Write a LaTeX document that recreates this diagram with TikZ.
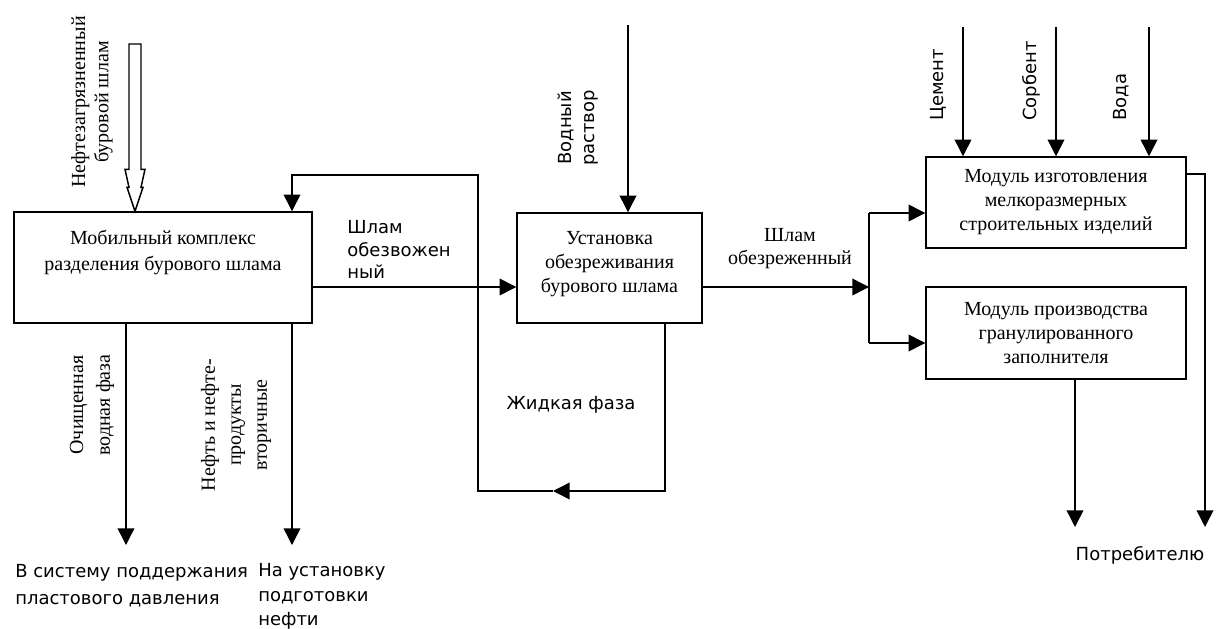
\documentclass[tikz,border=0pt]{standalone}
\usepackage{fontspec}
\setmainfont{Liberation Serif}
\newfontfamily\labfont{DejaVu Sans}
\usetikzlibrary{arrows.meta,calc}

\begin{document}
\begin{tikzpicture}[x=0.75pt, y=-0.75pt,
	blok/.style={draw, line width=1.1pt, align=center,
		font=\fontsize{15}{18}\selectfont},
	txt/.style={align=center, inner sep=0pt, font=\fontsize{15}{18}\selectfont},
	lab/.style={align=left, inner sep=0pt, font=\labfont\fontsize{13.5}{17}\selectfont},
	flow/.style={line width=1.1pt, -{Triangle[width=12.5pt, length=12.5pt]}}]

	\useasboundingbox (0,0) rectangle (1216,628);

	% blocks
	\node[blok, minimum width=223.5pt, minimum height=83.25pt, text depth=26pt,
		font=\fontsize{15}{19.5}\selectfont] (mob) at (163,267.5)
		{Мобильный комплекс\\разделения бурового шлама};
	\node[blok, minimum width=138.75pt, minimum height=82.5pt, text depth=8.5pt] (ust) at (609.5,268)
		{Установка\\обезреживания\\бурового шлама};
	\node[blok, minimum width=195pt, minimum height=68.25pt] (izd) at (1056,202.5)
		{Модуль изготовления\\мелкоразмерных\\строительных изделий};
	\node[blok, minimum width=195pt, minimum height=69pt] (gran) at (1056,333)
		{Модуль производства\\гранулированного\\заполнителя};

	% free ends and corners
	\coordinate (in1) at (135,44);
	\coordinate (hin) at (mob.north -| in1);
	\coordinate (vod) at (628,25);
	\coordinate (cem) at (963,27);
	\coordinate (sor) at (1056,27);
	\coordinate (voda) at (1149,27);
	\coordinate (j1) at (869,287);
	\coordinate (j2) at (869,213);
	\coordinate (j3) at (869,343);
	\coordinate (r1) at (665,491);
	\coordinate (r2) at (553,491);
	\coordinate (r3) at (478,175);
	\coordinate (r4) at (292,175);
	\coordinate (q1) at (126,545);
	\coordinate (q2) at (292,545);
	\coordinate (o1) at (1205,174);
	\coordinate (p1) at (1075,527);
	\coordinate (p2) at (1205,527);

	% hollow input arrow
	\draw[line width=1.1pt] ($(in1)+(-6,0)$) -- ($(hin)+(-6,-42)$) -- ($(hin)+(-10,-42)$)
		-- ($(hin)+(-6,-24)$) -- ($(hin)+(-8,-24)$) -- (hin) -- ($(hin)+(8,-24)$)
		-- ($(hin)+(6,-24)$) -- ($(hin)+(10,-42)$) -- ($(hin)+(6,-42)$) -- ($(in1)+(6,0)$) -- cycle;

	% flows
	\draw[flow] (mob.east |- j1) -- (ust.west |- j1);
	\draw[flow] (ust.east |- j1) -- (j1);
	\draw[line width=1.1pt] (j2) -- (j3);
	\draw[flow] (j2) -- (izd.west |- j2);
	\draw[flow] (j3) -- (gran.west |- j3);
	\draw[flow] (vod) -- (ust.north -| vod);
	\foreach \c in {cem,sor,voda}
		\draw[flow] (\c) -- (izd.north -| \c);
	\draw[flow] (ust.south -| r1) |- (r2);
	\draw[flow] (r2) -| (r3) -| (mob.north -| r4);
	\draw[flow] (mob.south -| q1) -- (q1);
	\draw[flow] (mob.south -| q2) -- (q2);
	\draw[flow] (izd.east |- o1) -| (p2);
	\draw[flow] (gran.south -| p1) -- (p1);

	% labels
	\node[txt, rotate=90, font=\fontsize{15}{17.5}\selectfont] (l_neft) at (92,102) {Нефтезагрязненный\\буровой шлам};
	\node[lab, rotate=90, align=center] (l_vod) at (578,128) {Водный\\раствор};
	\node[lab, rotate=90, anchor=west] (l_cem) at (938,121) {Цемент};
	\node[lab, rotate=90, anchor=west] (l_sor) at (1031,121) {Сорбент};
	\node[lab, rotate=90, anchor=west] (l_voda) at (1121,121) {Вода};
	\node[lab, anchor=north west] (l_obv) at (347,220) {Шлам\\обезвожен\\ный};
	\node[txt, anchor=north, font=\fontsize{15}{17.25}\selectfont] (l_obz) at (790,228) {Шлам\\обезреженный};
	\node[lab] (l_zh) at (571,405) {Жидкая фаза};
	\node[txt, rotate=90, font=\fontsize{15}{20}\selectfont] (l_och) at (92,405) {Очищенная\\водная фаза};
	\node[txt, rotate=90, font=\fontsize{15}{19.5}\selectfont] (l_nf) at (236,425) {Нефть и нефте-\\продукты\\вторичные};
	\node[lab, anchor=north west, font=\labfont\fontsize{13.5}{20}\selectfont] (l_ppd) at (15,564)
		{В систему поддержания\\пластового давления};
	\node[lab, anchor=north west, font=\labfont\fontsize{13.5}{18.5}\selectfont] (l_upn) at (258,563)
		{На установку\\подготовки\\нефти};
	\node[lab, anchor=base] (l_potr) at (1140,560) {Потребителю};
\end{tikzpicture}
\end{document}
